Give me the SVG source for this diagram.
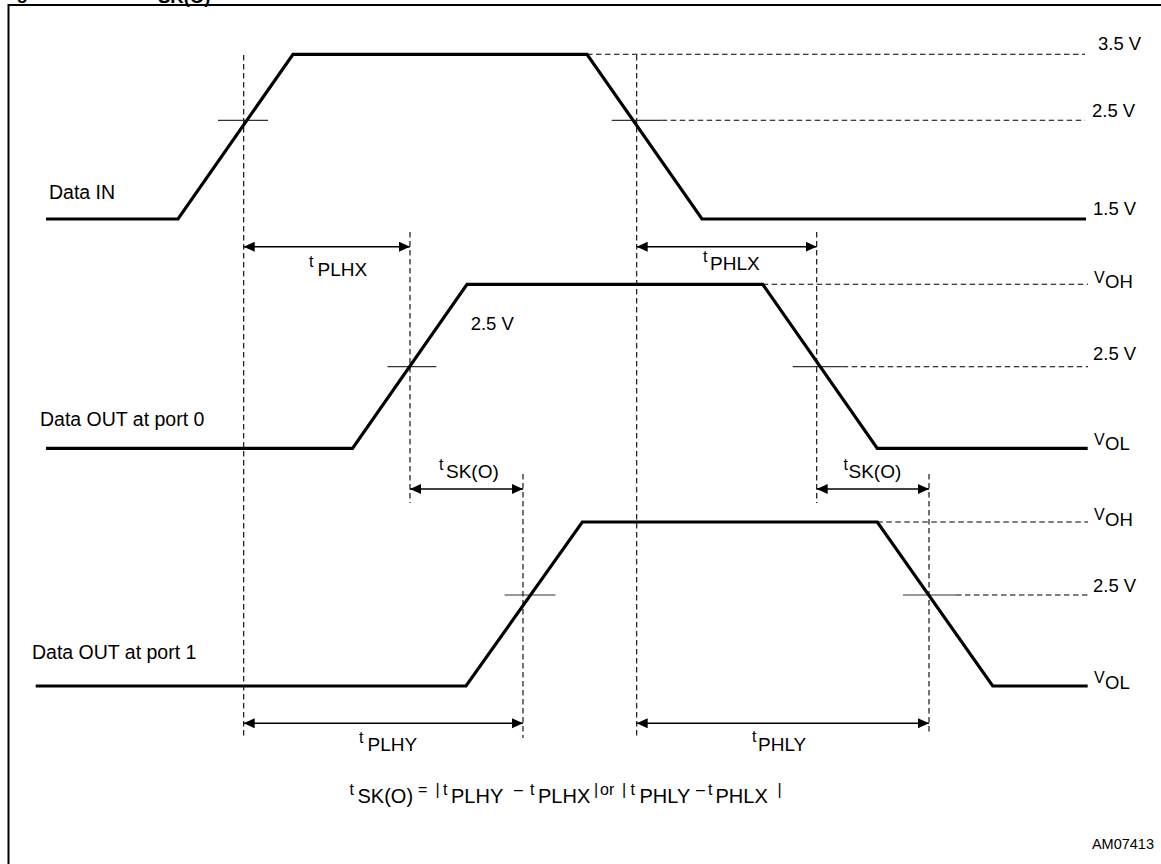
<svg xmlns="http://www.w3.org/2000/svg" width="1161" height="864" viewBox="0 0 1161 864">
<defs>
<style>
text{font-family:"Liberation Sans",Arial,Helvetica,sans-serif;fill:#000}
.lbl{font-size:19.5px}
.v{font-size:18.5px}
.sm{font-size:16px}
.sub{font-size:19px}
.fsub{font-size:20px}
.cap{font-size:18.5px;font-weight:bold}
.wave{fill:none;stroke:#000;stroke-width:3.2;stroke-linejoin:miter;stroke-linecap:butt}
.dash{fill:none;stroke:#000;stroke-width:1.1;stroke-dasharray:5.5 3.5}
.tick{stroke:#333;stroke-width:1.2}
.dim{stroke:#000;stroke-width:1.4;marker-start:url(#ah);marker-end:url(#ah)}
</style>
<marker id="ah" markerUnits="userSpaceOnUse" markerWidth="12" markerHeight="11" refX="11" refY="5" orient="auto-start-reverse">
<path d="M0,0 L11,5 L0,10 z" fill="#000"/>
</marker>
</defs>
<rect width="1161" height="864" fill="#fff"/>
<path d="M8.5,864 V5 H1161" fill="none" stroke="#000" stroke-width="2"/>
<g id="caption">
<text class="cap" x="0" y="-1">Figure</text>
<text class="cap"><tspan x="150" y="-6">t</tspan><tspan x="158" y="2.5">SK(O)</tspan></text>
</g>

<g id="guides">
<path class="dash" d="M243.7,55 V738 M636.7,55 V738 M410,232 V503 M816.7,232 V503 M523,474 V738 M929,474 V735"/>
<path class="dash" d="M587,54.3 H1085 M661.7,120.3 H1085 M762.7,284.3 H1088 M842.7,366.7 H1088 M877.3,522 H1088 M956,595 H1088"/>
<path class="tick" d="M218,120.3 H268 M611.7,120.3 H661.7 M387.5,366.7 H436.4 M792.7,366.7 H842.7 M504.6,595 H555.4 M903,595 H956"/>
</g>

<g id="data-in">
<path class="wave" d="M46,219 L178,219 L293,54.3 L587,54.3 L702,219 L1086,219"/>
<text class="lbl" x="49" y="199">Data IN</text>
<text class="v" x="1098" y="50">3.5 V</text>
<text class="v" x="1092" y="116.7">2.5 V</text>
<text class="v" x="1093" y="215">1.5 V</text>
</g>

<g id="data-out-0">
<path class="wave" d="M46,448.3 L352.5,448.3 L467,284.3 L762.7,284.3 L877.3,448.3 L1087.7,448.3"/>
<text class="lbl" x="40" y="425.7">Data OUT at port 0</text>
<text class="v" x="470.7" y="330">2.5 V</text>
<text class="v" x="1093" y="360">2.5 V</text>
<text><tspan class="sm" x="1094" y="282.5">V</tspan><tspan class="v" x="1105" y="288">OH</tspan></text>
<text><tspan class="sm" x="1094" y="444.5">V</tspan><tspan class="v" x="1105" y="450">OL</tspan></text>
</g>

<g id="data-out-1">
<path class="wave" d="M35.7,686 L466,686 L582.3,522 L877.3,522 L992.7,686 L1087.7,686"/>
<text class="lbl" x="32" y="659.3">Data OUT at port 1</text>
<text class="v" x="1093" y="591.7">2.5 V</text>
<text><tspan class="sm" x="1094" y="520">V</tspan><tspan class="v" x="1105" y="525.5">OH</tspan></text>
<text><tspan class="sm" x="1094" y="683">V</tspan><tspan class="v" x="1105" y="688.5">OL</tspan></text>
</g>

<g id="connectors">
<line class="dim" x1="243.7" y1="246.7" x2="410" y2="246.7"/>
<line class="dim" x1="636.7" y1="246.7" x2="816.7" y2="246.7"/>
<line class="dim" x1="410" y1="489" x2="523" y2="489"/>
<line class="dim" x1="816.7" y1="489" x2="929" y2="489"/>
<line class="dim" x1="243.7" y1="723.3" x2="523" y2="723.3"/>
<line class="dim" x1="636.7" y1="723.3" x2="929" y2="723.3"/>
</g>

<g id="connector-labels">
<text><tspan class="sm" x="309" y="267">t</tspan><tspan class="sub" x="317.5" y="275.5">PLHX</tspan></text>
<text><tspan class="sm" x="703" y="261.5">t</tspan><tspan class="sub" x="710" y="270">PHLX</tspan></text>
<text><tspan class="sm" x="439" y="470">t</tspan><tspan class="sub" x="446" y="478.3">SK(O)</tspan></text>
<text><tspan class="sm" x="843.5" y="470">t</tspan><tspan class="sub" x="848.5" y="478.3">SK(O)</tspan></text>
<text><tspan class="sm" x="359" y="742.5">t</tspan><tspan class="sub" x="367.5" y="750.7">PLHY</tspan></text>
<text><tspan class="sm" x="752" y="742">t</tspan><tspan class="sub" x="758" y="750.5">PHLY</tspan></text>
</g>

<g id="formula">
<text>
<tspan class="sm" x="349.5" y="794.5">t</tspan><tspan class="fsub" x="357.5" y="803.3">SK(O)</tspan>
<tspan class="sm" x="418" y="794.5">=</tspan><tspan class="sm" x="435.5" y="794.5">|</tspan>
<tspan class="sm" x="443" y="794.5">t</tspan><tspan class="fsub" x="451" y="803.3">PLHY</tspan>
<tspan class="sm" x="514" y="794.5">–</tspan>
<tspan class="sm" x="530" y="794.5">t</tspan><tspan class="fsub" x="538" y="803.3">PLHX</tspan>
<tspan class="sm" x="594" y="794.5">|</tspan><tspan class="sm" x="600" y="794.5">or</tspan><tspan class="sm" x="622" y="794.5">|</tspan>
<tspan class="sm" x="630.5" y="794.5">t</tspan><tspan class="fsub" x="639.5" y="803.3">PHLY</tspan>
<tspan class="sm" x="696" y="794.5">–</tspan>
<tspan class="sm" x="708" y="794.5">t</tspan><tspan class="fsub" x="715.5" y="803.3">PHLX</tspan>
<tspan class="sm" x="777.5" y="794.5">|</tspan>
</text>
</g>

<text id="ref" style="font-size:14.5px" x="1154" y="849" text-anchor="end">AM07413</text>
</svg>
